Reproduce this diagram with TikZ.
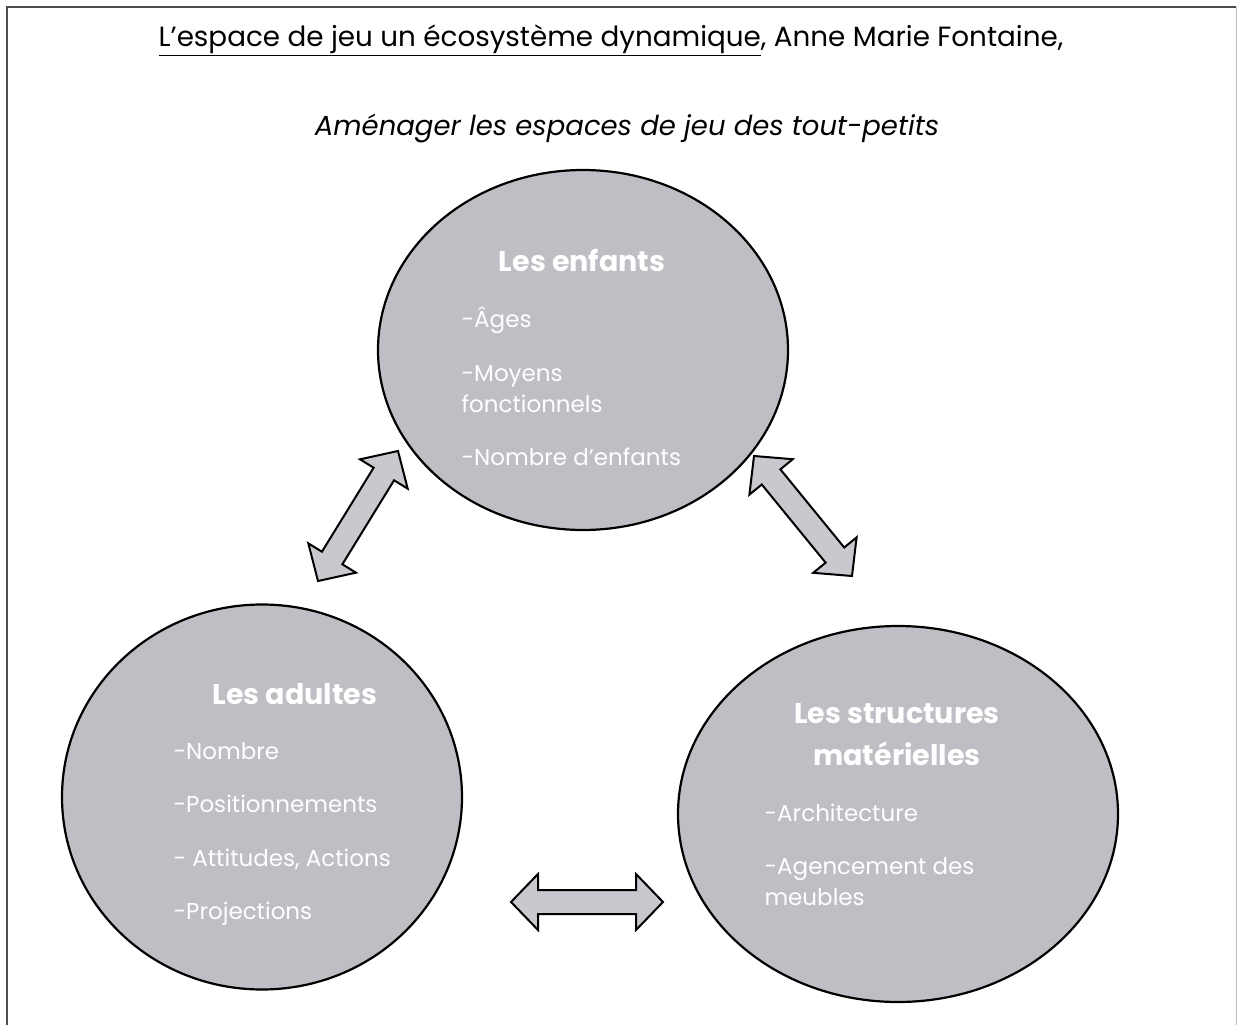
\documentclass[tikz,border=0pt]{standalone}
\usepackage{fontspec}
\setmainfont{Poppins}
\usetikzlibrary{shapes.geometric,calc}
\definecolor{circfill}{HTML}{BEBEC4}
\definecolor{arrfill}{HTML}{C8C8CE}
\newcommand\dblarrow[2]{%
  \draw[blockarr]
    (#1)
    -- ($(#1)!27pt!(#2)!28pt!90:(#2)$)
    -- ($(#1)!27pt!(#2)!12pt!90:(#2)$)
    -- ($(#2)!27pt!(#1)!12pt!-90:(#1)$)
    -- ($(#2)!27pt!(#1)!28pt!-90:(#1)$)
    -- (#2)
    -- ($(#2)!27pt!(#1)!28pt!90:(#1)$)
    -- ($(#2)!27pt!(#1)!12pt!90:(#1)$)
    -- ($(#1)!27pt!(#2)!12pt!-90:(#2)$)
    -- ($(#1)!27pt!(#2)!28pt!-90:(#2)$)
    -- cycle;}
\begin{document}
\begin{tikzpicture}[x=1pt,y=-1pt,
  circ/.style={ellipse, draw=black, line width=2.2pt, fill=circfill, inner sep=0pt},
  headtxt/.style={text=white, font=\fontsize{28.5}{32}\selectfont\bfseries, anchor=base},
  itemtxt/.style={text=white, font=\fontsize{23}{27}\selectfont, anchor=base west},
  blockarr/.style={draw=black, line width=2pt, fill=arrfill, line join=miter}]
\useasboundingbox (0,0) rectangle (1240,1025);
\fill[white] (0,0) rectangle (1240,1025);
\draw[black!70, line width=1.5pt] (7,1025) -- (7,7) -- (1236,7);
\draw[black!25, line width=1pt] (1236,7) -- (1236,1025);

\node[anchor=base, font=\fontsize{27.8}{32}\selectfont] (title) at (611,47)
  {\underline{L’espace de jeu un écosystème dynamique}, Anne Marie Fontaine,};
\node[anchor=base, font=\fontsize{27.5}{32}\selectfont\itshape] (sub) at (627,135)
  {Aménager les espaces de jeu des tout-petits};

\node[circ, minimum width=410, minimum height=360] (enf) at (583,350) {};
\node[circ, minimum width=400, minimum height=385] (adu) at (262,797) {};
\node[circ, minimum width=440, minimum height=376] (str) at (898,814) {};

\node[headtxt] (h1) at (582,271) {Les enfants};
\node[itemtxt] (e1) at (458,327) {-Âges};
\node[itemtxt] (e2) at (458,381) {-Moyens};
\node[itemtxt] (e3) at (458,412) {fonctionnels};
\node[itemtxt] (e4) at (458,465) {-Nombre d’enfants};

\node[headtxt] (h2) at (295,704) {Les adultes};
\node[itemtxt] (d1) at (170,759) {-Nombre};
\node[itemtxt] (d2) at (170,812) {-Positionnements};
\node[itemtxt] (d3) at (170,866) {- Attitudes, Actions};
\node[itemtxt] (d4) at (170,919) {-Projections};

\node[headtxt] (h3) at (897,723) {Les structures};
\node[headtxt] (h4) at (897,765) {matérielles};
\node[itemtxt] (s1) at (761,821) {-Architecture};
\node[itemtxt] (s2) at (761,874) {-Agencement des};
\node[itemtxt] (s3) at (761,905) {meubles};

\coordinate (a1s) at (318,581);
\coordinate (a1e) at (398,451);
\coordinate (a2s) at (754,456);
\coordinate (a2e) at (852,576);
\coordinate (a3s) at (511,902);
\coordinate (a3e) at (663,902);
\dblarrow{a1s}{a1e}
\dblarrow{a2s}{a2e}
\dblarrow{a3s}{a3e}
\end{tikzpicture}
\end{document}
